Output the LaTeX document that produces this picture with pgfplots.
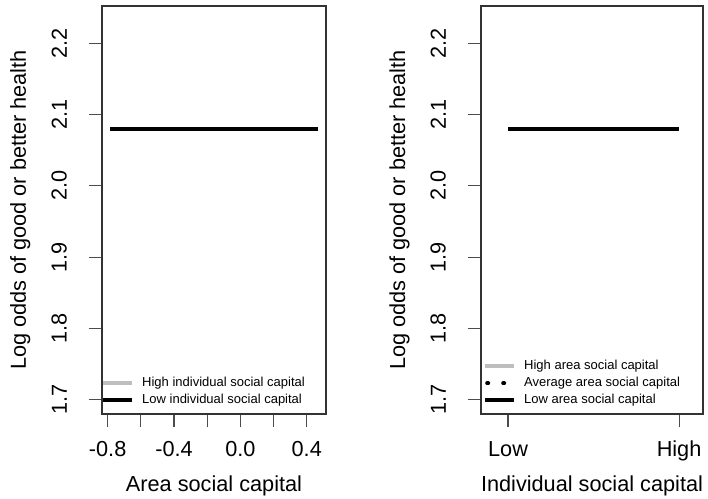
\documentclass[border=0pt]{standalone}
\usepackage{pgfplots}
\pgfplotsset{compat=1.18}
\usepackage{fontspec}
\setmainfont{Liberation Sans}
\definecolor{rgrey}{HTML}{BEBEBE}
\newcommand{\labfont}{\fontsize{21.7}{26}\selectfont}
\newcommand{\legfont}{\fontsize{13}{15}\selectfont}
\pgfplotsset{
  rstyle/.style={
    scale only axis,
    height=408pt,
    ymin=1.68, ymax=2.252,
    ytick={1.7,1.8,1.9,2.0,2.1,2.2},
    yticklabels={1.7,1.8,1.9,2.0,2.1,2.2},
    tick pos=left,
    tick align=outside,
    major tick length=13pt,
    axis line style={black!80, line width=1.2pt},
    tick style={black!70, line width=1.1pt},
    tick label style={font=\labfont},
    yticklabel style={rotate=90, anchor=south, inner xsep=0pt, inner ysep=22pt},
    xticklabel style={anchor=north, inner xsep=0pt, inner ysep=14pt},
    label style={font=\labfont},
    ylabel style={at={([xshift=-76pt]axis description cs:0,0.5)}, rotate=0, anchor=base},
    xlabel style={at={([yshift=-77pt]axis description cs:0.5,0)}, anchor=base},
    legend image code/.code={\draw[#1] (0pt,0pt) -- (29pt,0pt);},
    legend style={at={(axis description cs:0,0)}, anchor=south west,
      draw=none, fill=none, inner sep=0pt, font=\legfont,
      nodes={inner sep=0pt, text height=10pt, text depth=3pt, anchor=west},
      row sep=4pt, column sep=8pt, yshift=7pt},
    legend cell align=left,
  }
}
\begin{document}
\begin{tikzpicture}
\useasboundingbox (0pt,0pt) rectangle (708pt,498pt);
\begin{axis}[rstyle,
  at={(102pt,84pt)}, anchor=south west,
  width=224pt,
  xmin=-0.834, xmax=0.516,
  xtick={-0.8,-0.6,-0.4,-0.2,0,0.2,0.4},
  xticklabels={-0.8,,-0.4,,0.0,,0.4},
  xlabel={Area social capital},
  ylabel={Log odds of good or better health},
  legend style={xshift=-1pt},
]
\addplot[rgrey, line width=4pt] coordinates {(-0.784,2.08) (0.466,2.08)};
\addlegendentry{High individual social capital}
\addplot[black, line width=4pt] coordinates {(-0.784,2.08) (0.466,2.08)};
\addlegendentry{Low individual social capital}
\end{axis}
\begin{axis}[rstyle,
  at={(481pt,84pt)}, anchor=south west,
  width=222pt,
  xmin=-0.158, xmax=1.14,
  xtick={0,1},
  xticklabels={Low,High},
  xlabel={Individual social capital},
  ylabel={Log odds of good or better health},
  legend style={xshift=2pt},
]
\addplot[rgrey, line width=4pt] coordinates {(0,2.08) (1,2.08)};
\addlegendentry{High area social capital}
\addplot[black, line width=4pt, line cap=round, dash pattern=on 1pt off 15pt, dash phase=14pt] coordinates {(0,2.08) (1,2.08)};
\addlegendentry{Average area social capital}
\addplot[black, line width=4pt] coordinates {(0,2.08) (1,2.08)};
\addlegendentry{Low area social capital}
\end{axis}
\end{tikzpicture}
\end{document}
